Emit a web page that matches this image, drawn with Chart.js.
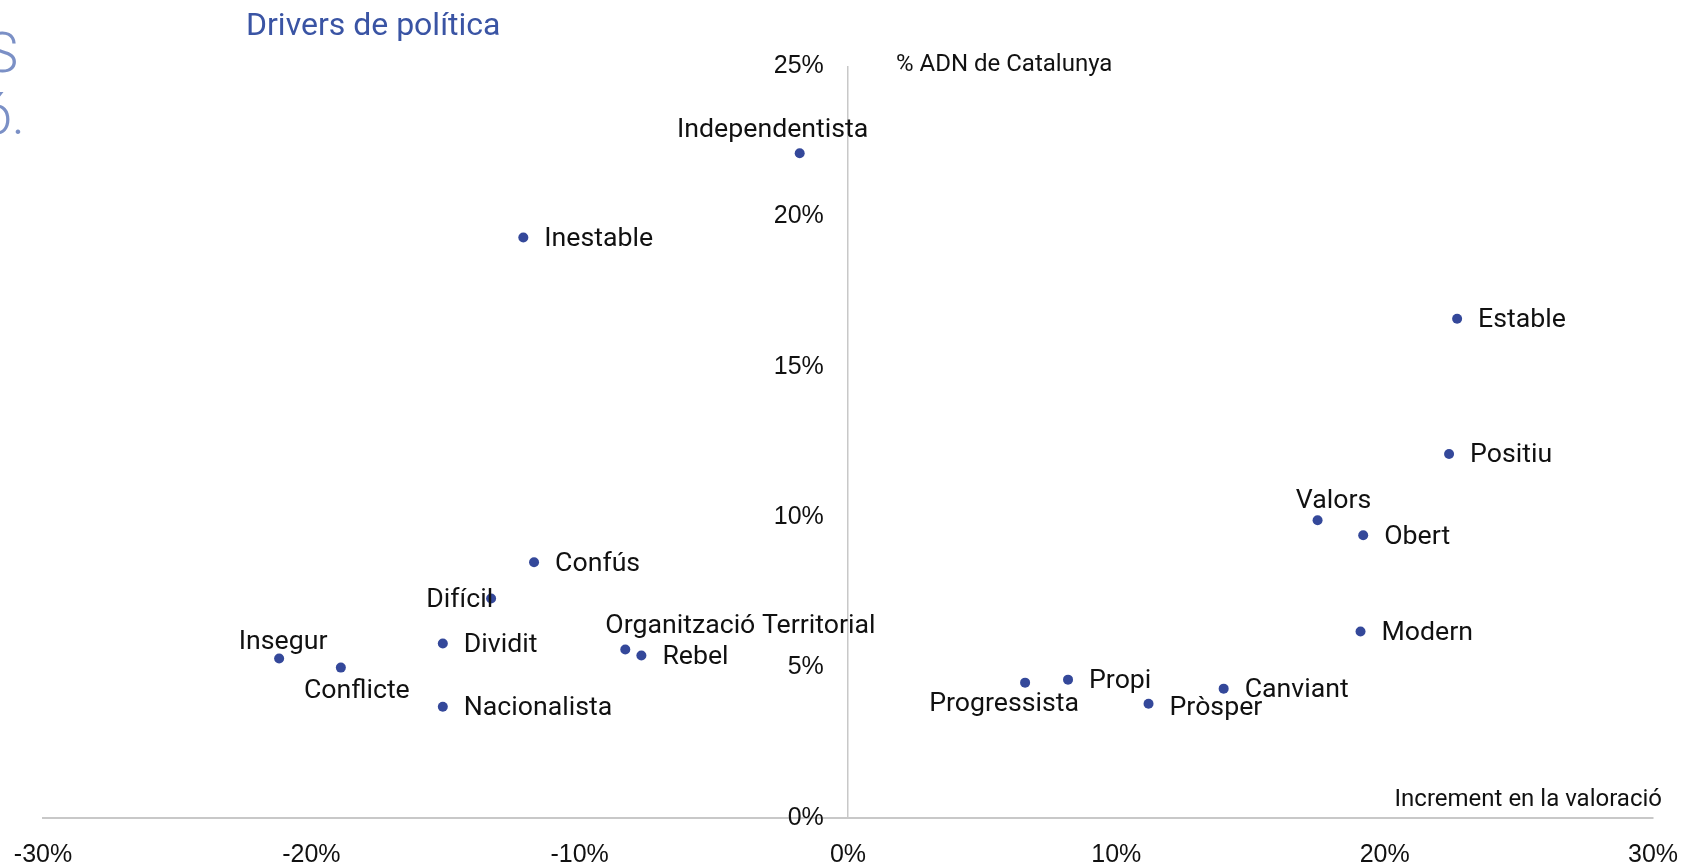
<!DOCTYPE html>
<html>
<head>
<meta charset="utf-8">
<script src="https://cdn.jsdelivr.net/npm/chart.js@4.4.1/dist/chart.umd.min.js"></script>
<style>
  body { margin: 0; background: #fff; }
  #contenidor { position: relative; width: 1683px; height: 863px; overflow: hidden; }
  #titol { position: absolute; left: 246px; top: 8px; font: 32px/1 Roboto, sans-serif; color: #3a54a4; white-space: nowrap; }
  .tallat { position: absolute; right: 1665px; font: 300 55px/1 Roboto, sans-serif; color: #7b90c6; white-space: nowrap; text-align: right; }
</style>
</head>
<body>
<div id="contenidor">
  <canvas id="grafica"></canvas>
  <div id="titol">Drivers de política</div>
  <div class="tallat" style="top:26px">S</div>
  <div class="tallat" style="top:88px;right:1658px">ó.</div>
</div>
<script>
// dades llegides de la gràfica (en %)
var etiquetes = ['Independentista', 'Inestable', 'Estable', 'Positiu', 'Valors', 'Obert', 'Modern',
  'Confús', 'Difícil', 'Dividit', 'Insegur', 'Conflicte', 'Nacionalista',
  'Organització Territorial', 'Rebel', 'Progressista', 'Propi', 'Pròsper', 'Canviant'];
var increment_valoracio = [-1.8, -12.1, 22.7, 22.4, 17.5, 19.2, 19.1,
  -11.7, -13.3, -15.1, -21.2, -18.9, -15.1,
  -8.3, -7.7, 6.6, 8.2, 11.2, 14.0];
var adn_catalunya = [22.1, 19.3, 16.6, 12.1, 9.9, 9.4, 6.2,
  8.5, 7.3, 5.8, 5.3, 5.0, 3.7,
  5.6, 5.4, 4.5, 4.6, 3.8, 4.3];
var ticks_x = [-30, -20, -10, 0, 10, 20, 30];
var ticks_y = [0, 5, 10, 15, 20, 25];
var titol_x = 'Increment en la valoració';
var titol_y = '% ADN de Catalunya';

// on va cada etiqueta respecte al punt: [alineació, dx, dy]
var posEtiqueta = {
  'Independentista': ['center', -27, -25],
  'Valors': ['center', 16, -21],
  'Insegur': ['center', 4, -18],
  'Conflicte': ['center', 16, 22],
  'Progressista': ['center', -21, 20],
  'Organització Territorial': ['left', -20, -25],
  'Difícil': ['right', 2, 0],
  'Pròsper': ['left', 21, 3]
};

var punts = [];
for (var i = 0; i < etiquetes.length; i++) {
  punts.push({x: increment_valoracio[i], y: adn_catalunya[i]});
}

var font = 'Roboto, sans-serif';
var fontTicks = '"Liberation Sans", Arial, sans-serif';

var pluginEtiquetes = {
  id: 'etiquetes',
  afterDatasetsDraw: function(chart) {
    var ctx = chart.ctx;
    var meta = chart.getDatasetMeta(0);
    ctx.save();
    ctx.font = '26.7px ' + font;
    ctx.fillStyle = '#111';
    ctx.textBaseline = 'middle';
    meta.data.forEach(function(p, i) {
      var pos = posEtiqueta[etiquetes[i]] || ['left', 21, 0];
      ctx.textAlign = pos[0];
      ctx.fillText(etiquetes[i], p.x + pos[1], p.y + pos[2] + 1.7);
    });
    // titols dels eixos
    var sx = chart.scales.x, sy = chart.scales.y;
    ctx.font = '24px ' + font;
    ctx.textAlign = 'left';
    ctx.fillText(titol_y, sx.getPixelForValue(0) + 48, sy.getPixelForValue(25) - 1);
    ctx.textAlign = 'right';
    ctx.fillText(titol_x, sx.getPixelForValue(30) + 9, sy.getPixelForValue(0) - 18);
    ctx.restore();
  }
};

function senseMarges(s) {
  s.paddingLeft = 0; s.paddingRight = 0; s.paddingTop = 0; s.paddingBottom = 0;
}

var ctx = document.getElementById('grafica').getContext('2d');
var chart = new Chart(ctx, {
  type: 'scatter',
  data: {
    datasets: [{
      data: punts,
      backgroundColor: '#34489a',
      borderWidth: 0,
      pointRadius: 5,
      pointHoverRadius: 5
    }]
  },
  options: {
    responsive: true,
    maintainAspectRatio: false,
    animation: false,
    layout: { padding: { left: 43, right: 30, top: 66, bottom: 45 } },
    plugins: { legend: { display: false }, tooltip: { enabled: false } },
    scales: {
      x: {
        type: 'linear',
        min: -30, max: 30,
        position: { y: 0 },
        afterBuildTicks: function(s) { s.ticks = ticks_x.map(function(v) { return {value: v}; }); },
        afterFit: senseMarges,
        ticks: { callback: function(v) { return v + '%'; }, padding: 22, color: '#111', font: { family: fontTicks, size: 25 }, maxRotation: 0, autoSkip: false },
        // la linia vertical del 0% surt de la graella de l'eix x
        grid: {
          drawTicks: false,
          lineWidth: 1.5,
          color: function(c) { return c.tick && c.tick.value === 0 ? '#c8c8c8' : 'rgba(0,0,0,0)'; }
        },
        border: { color: '#c8c8c8', width: 2 }
      },
      y: {
        type: 'linear',
        min: 0, max: 25,
        position: { x: -0.9 },
        afterBuildTicks: function(s) { s.ticks = ticks_y.map(function(v) { return {value: v}; }); },
        afterFit: senseMarges,
        ticks: { callback: function(v) { return v + '%'; }, color: '#111', font: { family: fontTicks, size: 25 }, autoSkip: false },
        grid: { drawOnChartArea: false, drawTicks: false },
        border: { display: false }
      }
    }
  },
  plugins: [pluginEtiquetes]
});
</script>
</body>
</html>
